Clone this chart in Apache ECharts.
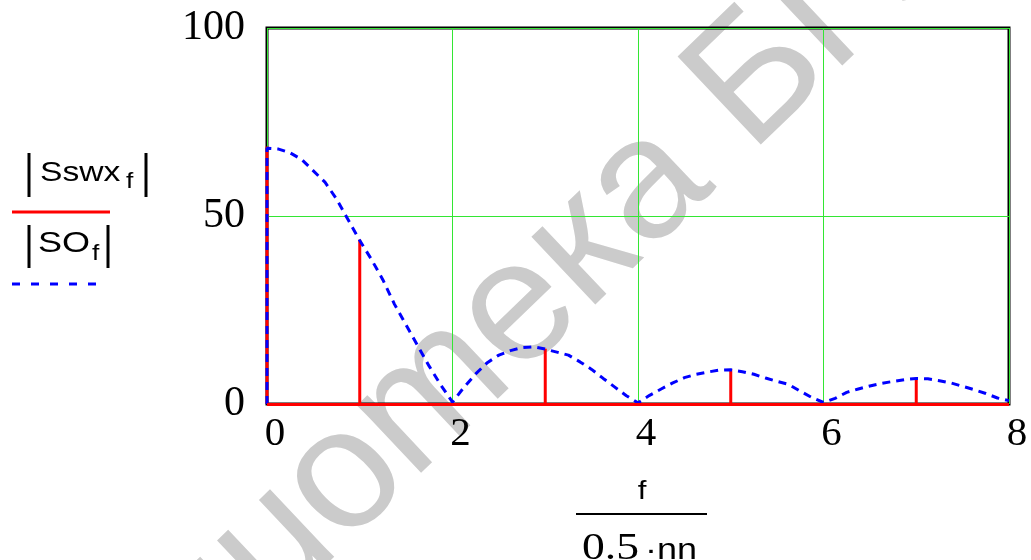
<!DOCTYPE html>
<html>
<head>
<meta charset="utf-8">
<script src="https://cdn.jsdelivr.net/npm/echarts@6/dist/echarts.min.js"></script>
<style>
  html, body { margin: 0; padding: 0; background: #fff; }
  #chart { width: 1031px; height: 560px; }
</style>
</head>
<body>
<div id="chart"></div>
<script>
// Normalised frequency f/(0.5·nn) of the spectral lines
const stemF = [0, 1, 2, 3, 4, 5, 6, 7, 8];
// |Sswx_f| — line spectrum of the sampled signal
const stemAmp = [68.5, 43.7, 0, 14.7, 0, 9.3, 0, 6.9, 0];

// Continuous envelope |SO_f|
const curveF = [0, 0, 0.125, 0.25, 0.375, 0.5, 0.625, 0.75, 0.875, 1,
  1.125, 1.25, 1.375, 1.5, 1.625, 1.75, 1.875, 2,
  2.125, 2.25, 2.375, 2.5, 2.625, 2.75, 2.875, 3,
  3.125, 3.25, 3.375, 3.5, 3.625, 3.75, 3.875, 4,
  4.125, 4.25, 4.375, 4.5, 4.625, 4.75, 4.875, 5,
  5.125, 5.25, 5.375, 5.5, 5.625, 5.75, 5.875, 6,
  6.125, 6.25, 6.375, 6.5, 6.625, 6.75, 6.875, 7,
  7.125, 7.25, 7.375, 7.5, 7.625, 7.75, 7.875, 8];
const curveAmp = [0, 68, 67.8, 66.8, 65, 62, 59, 54.5, 49, 43.5,
  38.5, 33, 26.5, 21, 15.5, 10, 5, 0.5,
  4.5, 8, 11, 13, 14.2, 15, 15.2, 14.6,
  13.8, 13, 11.2, 9.2, 6.8, 4.5, 2.2, 0.3,
  2.3, 4, 5.6, 7, 7.9, 8.5, 9, 9.1,
  8.6, 7.9, 6.9, 6, 5.2, 3.4, 1.7, 0.4,
  1.5, 3.1, 4, 4.8, 5.5, 6, 6.5, 6.8,
  6.7, 6.2, 5.6, 4.7, 3.8, 2.8, 1.6, 0.9];

const xTicks = [0, 2, 4, 6, 8];
const yTicks = [0, 50, 100];

const SERIF = '"Liberation Serif", "Times New Roman", serif';
const SANS = '"Liberation Sans", Arial, sans-serif';
const GREEN = '#33e633';

// text stretched horizontally like the rest of the sheet
function label(x, y, text, size, family, align) {
  return {
    type: 'text', x: x, y: y, scaleX: 1.2, z: 10,
    style: {
      text: text, fontSize: size, fontFamily: family, fill: '#000',
      align: align || 'left', textAlign: align || 'left',
      verticalAlign: 'middle', textVerticalAlign: 'middle'
    }
  };
}
function absBar(x, y1, y2) {
  return { type: 'line', z: 10, shape: { x1: x, y1: y1, x2: x, y2: y2 },
    style: { stroke: '#000', lineWidth: 3 } };
}

const chart = echarts.init(document.getElementById('chart'), null, { renderer: 'canvas' });

chart.setOption({
  animation: false,
  backgroundColor: '#fff',
  grid: {
    left: 267, right: 22, top: 28, bottom: 156,
    show: true, borderColor: '#000', borderWidth: 3, backgroundColor: 'transparent'
  },
  xAxis: {
    type: 'value', min: xTicks[0], max: xTicks[xTicks.length - 1], interval: 2,
    axisLine: { show: false }, axisTick: { show: false },
    splitLine: { show: true, lineStyle: { color: GREEN, width: 1 } },
    axisLabel: { color: '#000', fontFamily: SERIF, fontSize: 41, margin: 10,
      padding: [0, 0, 0, 16] }
  },
  yAxis: {
    type: 'value', min: yTicks[0], max: yTicks[yTicks.length - 1], interval: 50,
    axisLine: { show: false }, axisTick: { show: false },
    splitLine: { show: true, lineStyle: { color: GREEN, width: 1 } },
    axisLabel: { color: '#000', fontFamily: SERIF, fontSize: 42, margin: 22,
      padding: [6, 0, 0, 0] }
  },
  series: [
    {
      name: '|Sswx_f|', type: 'bar', barWidth: 3, z: 3,
      itemStyle: { color: '#ff0000' },
      data: stemF.map((f, i) => [f, stemAmp[i]]),
      markLine: {
        silent: true, symbol: ['none', 'none'], label: { show: false },
        lineStyle: { color: '#ff0000', width: 3, type: 'solid' },
        data: [{ yAxis: 0 }]
      }
    },
    {
      name: '|SO_f|', type: 'line', z: 4, symbol: 'none', smooth: false,
      lineStyle: { color: '#0000ff', width: 3, type: [8, 6] },
      data: curveF.map((f, i) => [f, curveAmp[i]])
    }
  ],
  graphic: [
    // watermark: rotated italic text, stretched horizontally by the group
    { type: 'group', x: 0, y: 0, scaleX: 1.2, z: -10,
      children: [
        { type: 'text', x: 0, y: 897, rotation: 0.859, z: -10,
          style: { text: 'Библиотека БГУИР', fontSize: 160, fontStyle: 'italic',
            fontFamily: SANS, fill: '#cbcbcb', x: 0, y: -56,
            align: 'left', textAlign: 'left',
            verticalAlign: 'middle', textVerticalAlign: 'middle' } }
      ] },
    // y-axis trace labels
    absBar(29, 153, 197), absBar(146, 153, 197),
    label(40, 173, 'Sswx', 28, SANS),
    label(126, 182, 'f', 22, SANS),
    { type: 'line', z: 10, shape: { x1: 12, y1: 212, x2: 110, y2: 212 },
      style: { stroke: '#ff0000', lineWidth: 3 } },
    absBar(29, 225, 268), absBar(108, 225, 268),
    label(38, 244, 'SO', 30, SANS),
    label(92, 254, 'f', 22, SANS),
    { type: 'line', z: 10, shape: { x1: 12, y1: 284, x2: 97, y2: 284 },
      style: { stroke: '#0000ff', lineWidth: 3, lineDash: [8, 11] } },
    // x-axis title
    label(642, 492, 'f', 26, SANS, 'center'),
    { type: 'line', z: 10, shape: { x1: 576, y1: 514, x2: 707, y2: 514 },
      style: { stroke: '#000', lineWidth: 2 } },
    label(582, 549, '0.5', 38, SERIF),
    label(645, 551, '·nn', 30, SANS)
  ]
});
</script>
</body>
</html>
